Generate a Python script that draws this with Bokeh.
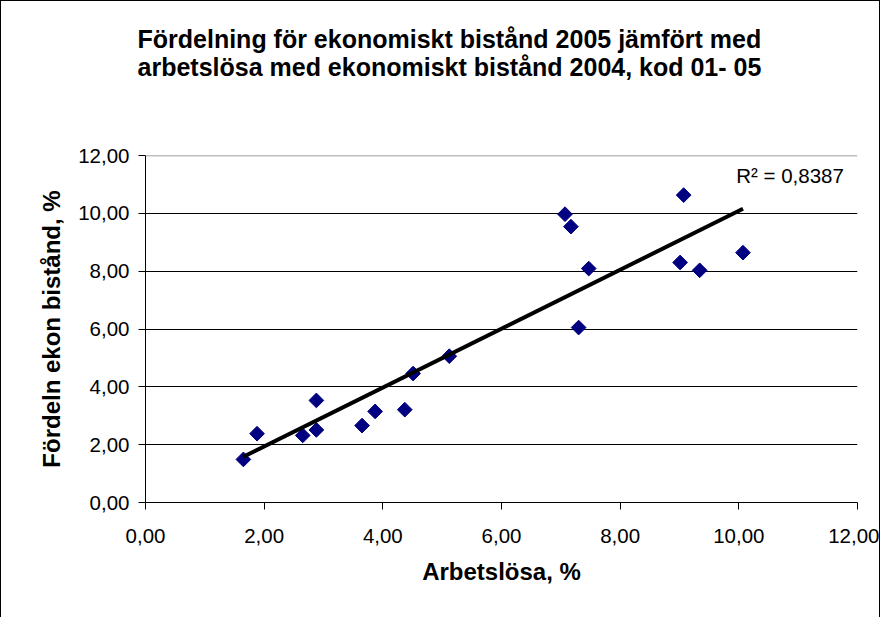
import numpy as np
from bokeh.plotting import figure
from bokeh.models import Range1d, FixedTicker, Label, Span, Title
from bokeh.embed import file_html
from bokeh.resources import INLINE

# ---- data ----
arbetslosa = [1.65, 1.88, 2.65, 2.88, 2.88, 3.65, 3.87, 4.37, 4.51, 5.12,
              7.07, 7.17, 7.30, 7.47, 9.01, 9.07, 9.34, 10.07]
bistand = [1.49, 2.38, 2.32, 3.53, 2.51, 2.66, 3.15, 3.21, 4.46, 5.06,
           9.97, 9.54, 6.05, 8.09, 8.30, 10.63, 8.03, 8.64]
tick_values = [0, 2, 4, 6, 8, 10, 12]
tick_labels = ["0,00", "2,00", "4,00", "6,00", "8,00", "10,00", "12,00"]
title_lines = ["Fördelning för ekonomiskt bistånd 2005 jämfört med",
               "arbetslösa med ekonomiskt bistånd 2004, kod 01- 05"]
x_title = "Arbetslösa, %"
y_title = "Fördeln ekon bistånd, %"
r2_text = "R² = 0,8387"

FONT = "Liberation Sans"

# linear trend line from the data
slope, intercept = np.polyfit(arbetslosa, bistand, 1)
trend_x = [min(arbetslosa), max(arbetslosa)]
trend_y = [slope * v + intercept for v in trend_x]

p = figure(width=880, height=617,
           x_range=Range1d(0, 12), y_range=Range1d(0, 12),
           output_backend="svg", toolbar_location=None,
           min_border_left=144, min_border_right=24,
           min_border_top=154, min_border_bottom=116)
p.background_fill_color = "white"
p.border_fill_color = "white"
p.outline_line_color = None
p.styles = {"border-top": "1px solid black", "border-left": "1px solid black",
            "border-right": "1px solid black"}

# title (two lines)
p.title.text = "\n".join(title_lines)
p.title.text_font = FONT
p.title.text_font_style = "bold"
p.title.text_font_size = "25px"
p.title.text_color = "black"
p.title.text_line_height = 1.02
p.title.align = "left"
p.title.offset = -8
p.title.vertical_align = "top"
p.title.standoff = 40
# empty spacer between title and plot area
p.add_layout(Title(text=" ", text_font_size="10px", standoff=39), "above")

labels_map = dict(zip(tick_values, tick_labels))
for ax in (p.xaxis[0], p.yaxis[0]):
    ax.ticker = FixedTicker(ticks=tick_values)
    ax.major_label_overrides = labels_map
    ax.minor_tick_line_color = None
    ax.major_tick_in = 0
    ax.major_tick_out = 7
    ax.axis_line_color = "black"
    ax.major_tick_line_color = "black"
    ax.major_label_text_font = FONT
    ax.major_label_text_font_size = "20.5px"
    ax.major_label_text_color = "black"
    ax.axis_label_text_font = FONT
    ax.axis_label_text_font_style = "bold"
    ax.axis_label_text_font_size = "24px"
    ax.axis_label_text_color = "black"

p.xaxis.axis_label = x_title
p.yaxis.axis_label = y_title
p.xaxis.major_label_standoff = 19
p.yaxis.major_label_standoff = 9
p.xaxis.axis_label_standoff = 12
p.yaxis.axis_label_standoff = 10

p.xgrid.visible = False
p.ygrid.ticker = FixedTicker(ticks=[2, 4, 6, 8, 10])
p.ygrid.grid_line_color = "black"
p.ygrid.grid_line_width = 1
p.add_layout(Span(location=12, dimension="width", line_color="#808080", line_width=1.5))

p.scatter(arbetslosa, bistand, marker="square", size=10.4, angle=np.pi / 4,
          fill_color="#000080", line_color="#000080")
p.line(trend_x, trend_y, line_color="black", line_width=4)

p.add_layout(Label(x=9.956, y=11.3, text=r2_text, text_align="left",
                   text_baseline="alphabetic", text_font=FONT,
                   text_font_size="20.5px", text_color="black"))

open("out.html", "w").write(file_html(p, INLINE))
